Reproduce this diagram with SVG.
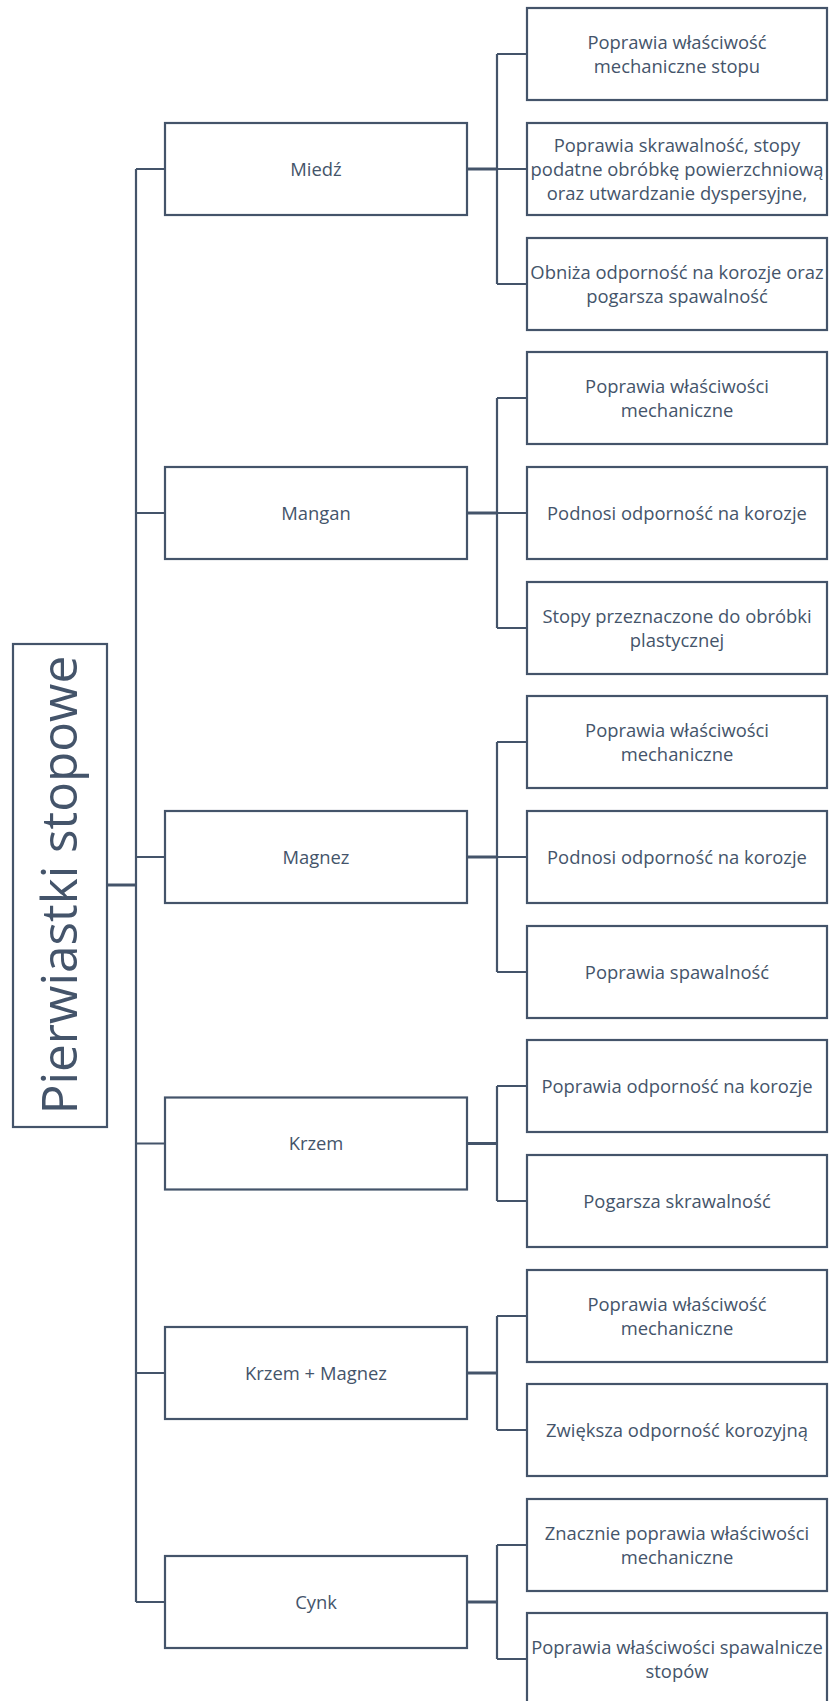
<svg xmlns="http://www.w3.org/2000/svg" width="829" height="1701" viewBox="0 0 829 1701">
  <style>
    .box { fill: #ffffff; stroke: #44546A; stroke-width: 2.2; }
    .wire { fill: none; stroke: #44546A; stroke-width: 2.2; }
    .wire-main { fill: none; stroke: #44546A; stroke-width: 3; }
    .lbl { font-family: "Open Sans", "Liberation Sans", sans-serif; font-size: 18.4px; fill: #44546A; text-anchor: middle; }
    .root { font-family: "Open Sans", "Liberation Sans", sans-serif; font-size: 49.5px; fill: #44546A; text-anchor: middle; }
  </style>

  <!-- connectors -->
  <g id="connectors">
    <!-- root to trunk -->
    <path class="wire-main" d="M107 885 H136"/>
    <!-- trunk -->
    <path class="wire" d="M136 169 V1602 M136 169 H165 M136 513 H165 M136 857 H165 M136 1143.5 H165 M136 1373 H165 M136 1602 H165"/>
    <!-- Miedź -->
    <path class="wire-main" d="M467 169 H497"/>
    <path class="wire" d="M497 54 V284 M497 54 H527 M497 169 H527 M497 284 H527"/>
    <!-- Mangan -->
    <path class="wire-main" d="M467 513 H497"/>
    <path class="wire" d="M497 398 V628 M497 398 H527 M497 513 H527 M497 628 H527"/>
    <!-- Magnez -->
    <path class="wire-main" d="M467 857 H497"/>
    <path class="wire" d="M497 742 V972 M497 742 H527 M497 857 H527 M497 972 H527"/>
    <!-- Krzem -->
    <path class="wire-main" d="M467 1143.5 H497"/>
    <path class="wire" d="M497 1086 V1201 M497 1086 H527 M497 1201 H527"/>
    <!-- Krzem + Magnez -->
    <path class="wire-main" d="M467 1373 H497"/>
    <path class="wire" d="M497 1316 V1430 M497 1316 H527 M497 1430 H527"/>
    <!-- Cynk -->
    <path class="wire-main" d="M467 1602 H497"/>
    <path class="wire" d="M497 1545 V1659 M497 1545 H527 M497 1659 H527"/>
  </g>

  <!-- root -->
  <g id="root">
    <rect class="box" x="13" y="644" width="94" height="483"/>
    <text class="root" transform="translate(77,885) rotate(-90)" x="0" y="0">Pierwiastki stopowe</text>
  </g>

  <!-- elements -->
  <g id="miedz">
    <rect class="box" x="165" y="123" width="302" height="92"/>
    <text class="lbl" x="316" y="175.5">Miedź</text>
  </g>
  <g id="mangan">
    <rect class="box" x="165" y="467" width="302" height="92"/>
    <text class="lbl" x="316" y="519.5">Mangan</text>
  </g>
  <g id="magnez">
    <rect class="box" x="165" y="811" width="302" height="92"/>
    <text class="lbl" x="316" y="863.5">Magnez</text>
  </g>
  <g id="krzem">
    <rect class="box" x="165" y="1097.5" width="302" height="92"/>
    <text class="lbl" x="316" y="1150">Krzem</text>
  </g>
  <g id="krzem-magnez">
    <rect class="box" x="165" y="1327" width="302" height="92"/>
    <text class="lbl" x="316" y="1379.5">Krzem + Magnez</text>
  </g>
  <g id="cynk">
    <rect class="box" x="165" y="1556" width="302" height="92"/>
    <text class="lbl" x="316" y="1608.5">Cynk</text>
  </g>

  <!-- effects -->
  <g id="miedz-1">
    <rect class="box" x="527" y="8" width="300" height="92"/>
    <text class="lbl" x="677" y="48.5">Poprawia właściwość<tspan x="677" dy="24.5">mechaniczne stopu</tspan></text>
  </g>
  <g id="miedz-2">
    <rect class="box" x="527" y="123" width="300" height="92"/>
    <text class="lbl" x="677" y="151.5">Poprawia skrawalność, stopy<tspan x="677" dy="24">podatne obróbkę powierzchniową</tspan><tspan x="677" dy="24">oraz utwardzanie dyspersyjne,</tspan></text>
  </g>
  <g id="miedz-3">
    <rect class="box" x="527" y="238" width="300" height="92"/>
    <text class="lbl" x="677" y="278.5">Obniża odporność na korozje oraz<tspan x="677" dy="24.5">pogarsza spawalność</tspan></text>
  </g>

  <g id="mangan-1">
    <rect class="box" x="527" y="352" width="300" height="92"/>
    <text class="lbl" x="677" y="392.5">Poprawia właściwości<tspan x="677" dy="24.5">mechaniczne</tspan></text>
  </g>
  <g id="mangan-2">
    <rect class="box" x="527" y="467" width="300" height="92"/>
    <text class="lbl" x="677" y="519.5">Podnosi odporność na korozje</text>
  </g>
  <g id="mangan-3">
    <rect class="box" x="527" y="582" width="300" height="92"/>
    <text class="lbl" x="677" y="622.5">Stopy przeznaczone do obróbki<tspan x="677" dy="24.5">plastycznej</tspan></text>
  </g>

  <g id="magnez-1">
    <rect class="box" x="527" y="696" width="300" height="92"/>
    <text class="lbl" x="677" y="736.5">Poprawia właściwości<tspan x="677" dy="24.5">mechaniczne</tspan></text>
  </g>
  <g id="magnez-2">
    <rect class="box" x="527" y="811" width="300" height="92"/>
    <text class="lbl" x="677" y="863.5">Podnosi odporność na korozje</text>
  </g>
  <g id="magnez-3">
    <rect class="box" x="527" y="926" width="300" height="92"/>
    <text class="lbl" x="677" y="978.5">Poprawia spawalność</text>
  </g>

  <g id="krzem-1">
    <rect class="box" x="527" y="1040" width="300" height="92"/>
    <text class="lbl" x="677" y="1092.5">Poprawia odporność na korozje</text>
  </g>
  <g id="krzem-2">
    <rect class="box" x="527" y="1155" width="300" height="92"/>
    <text class="lbl" x="677" y="1207.5">Pogarsza skrawalność</text>
  </g>

  <g id="krzem-magnez-1">
    <rect class="box" x="527" y="1270" width="300" height="92"/>
    <text class="lbl" x="677" y="1310.5">Poprawia właściwość<tspan x="677" dy="24.5">mechaniczne</tspan></text>
  </g>
  <g id="krzem-magnez-2">
    <rect class="box" x="527" y="1384" width="300" height="92"/>
    <text class="lbl" x="677" y="1436.5">Zwiększa odporność korozyjną</text>
  </g>

  <g id="cynk-1">
    <rect class="box" x="527" y="1499" width="300" height="92"/>
    <text class="lbl" x="677" y="1539.5">Znacznie poprawia właściwości<tspan x="677" dy="24.5">mechaniczne</tspan></text>
  </g>
  <g id="cynk-2">
    <rect class="box" x="527" y="1613" width="300" height="92"/>
    <text class="lbl" x="677" y="1653.5">Poprawia właściwości spawalnicze<tspan x="677" dy="24.5">stopów</tspan></text>
  </g>
</svg>
